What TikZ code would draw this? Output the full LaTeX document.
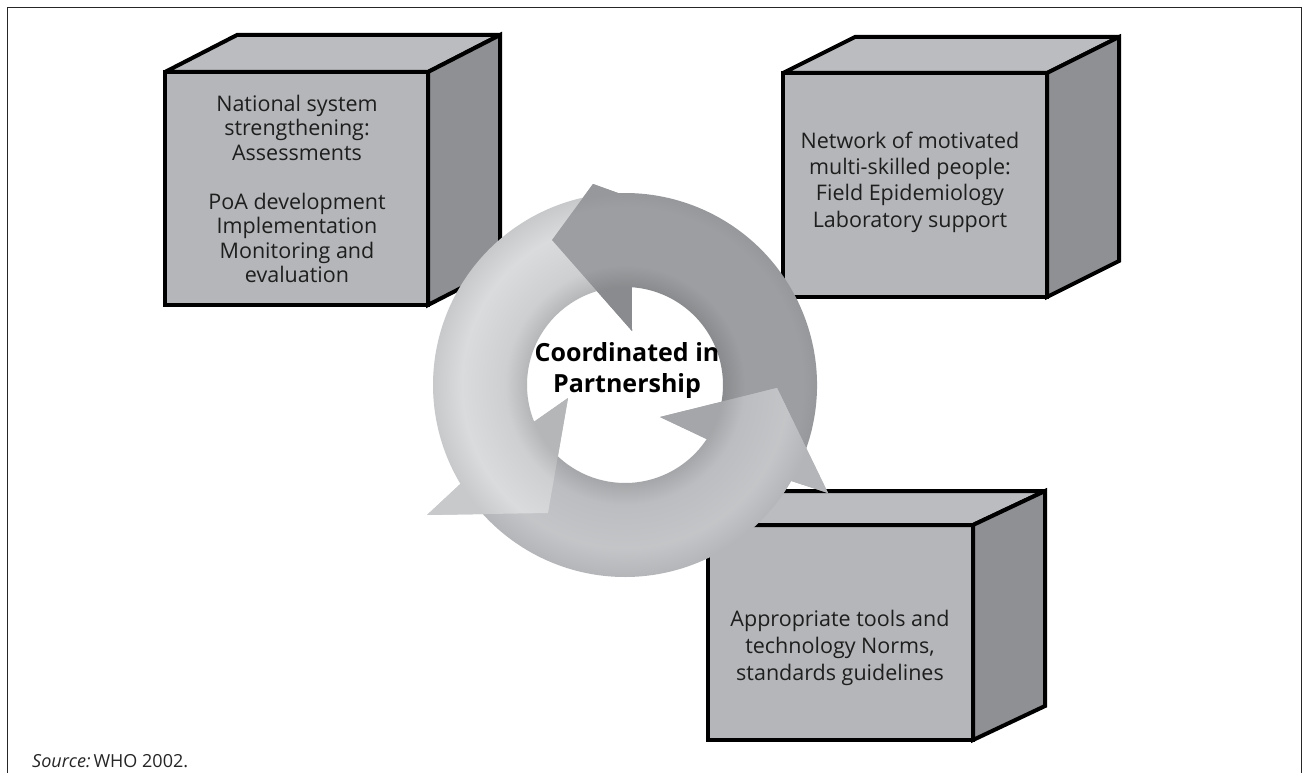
\documentclass[tikz,border=0pt]{standalone}
\usepackage{fontspec}
\setmainfont{Open Sans}
\usetikzlibrary{calc}
\definecolor{frontc}{HTML}{B4B6B9}
\definecolor{topc}{HTML}{BABCBF}
\definecolor{sidec}{HTML}{8E9093}
\definecolor{arrA}{HTML}{9C9EA1}
\definecolor{arrB}{HTML}{CDCFD1}
\definecolor{arrC}{HTML}{BBBDC0}
\definecolor{txt}{HTML}{1E1E1E}
\pgfdeclareradialshading{ringA}{\pgfpoint{0bp}{0bp}}{color(0bp)=(arrA!88!black); color(10.2bp)=(arrA!88!black); color(12.5bp)=(arrA); color(18.5bp)=(arrA); color(20bp)=(arrA!96!black); color(25bp)=(arrA!96!black)}
\pgfdeclareradialshading{ringB}{\pgfpoint{0bp}{0bp}}{color(0bp)=(arrB!88!black); color(10.2bp)=(arrB!88!black); color(12.5bp)=(arrB); color(17bp)=(arrB!75!white); color(20bp)=(arrB!97!black); color(25bp)=(arrB!97!black)}
\pgfdeclareradialshading{ringC}{\pgfpoint{0bp}{0bp}}{color(0bp)=(arrC!88!black); color(10.2bp)=(arrC!88!black); color(12.5bp)=(arrC); color(17bp)=(arrC!88!white); color(20bp)=(arrC!96!black); color(25bp)=(arrC!96!black)}
\begin{document}
\begin{tikzpicture}[x=1pt,y=-1pt,
  face/.style={draw=black,line width=4pt,line join=miter,miter limit=3},
  frontface/.style={face,fill=frontc,rectangle,inner sep=0pt,outer sep=0pt},
  topface/.style={face,fill=topc},
  sideface/.style={face,fill=sidec},
  boxtext/.style={text=txt,align=center,inner sep=0pt},
  ringtext/.style={text=black,align=center,inner sep=0pt,font=\fontsize{25}{31}\selectfont\bfseries},
  frameline/.style={line width=1.5pt,draw=black!85}
]
\useasboundingbox (0,0) rectangle (1304,773);
\fill[white] (0,0) rectangle (1304,773);
\draw[frameline] (7.5,773) -- (7.5,7.5) -- (1301.5,7.5) -- (1301.5,773);

% Box 1
\node[frontface,minimum width=263pt,minimum height=233pt] (f1) at (296.5,188.5) {};
\filldraw[topface] (f1.north west) -- ++(72,-37) -- ++(263,0) -- (f1.north east) -- cycle;
\filldraw[sideface] (f1.north east) -- ++(72,-37) -- ++(0,233) -- (f1.south east) -- cycle;
\node[boxtext,font=\fontsize{21.5}{24.5}\selectfont] (t1) at (297,189) {National system\\strengthening:\\Assessments\\[24.5pt]PoA development\\Implementation\\Monitoring and\\evaluation};

% Box 2
\node[frontface,minimum width=264pt,minimum height=224pt] (f2) at (915,185) {};
\filldraw[topface] (f2.north west) -- ++(72,-36) -- ++(264,0) -- (f2.north east) -- cycle;
\filldraw[sideface] (f2.north east) -- ++(72,-36) -- ++(0,224) -- (f2.south east) -- cycle;
\node[boxtext,font=\fontsize{21.5}{26.3}\selectfont] (t2) at (910,182) {Network of motivated\\multi-skilled people:\\Field Epidemiology\\Laboratory support};

% Box 3
\node[frontface,minimum width=265pt,minimum height=215pt] (f3) at (840.5,632.5) {};
\filldraw[topface] (f3.north west) -- ++(72,-34) -- ++(265,0) -- (f3.north east) -- cycle;
\filldraw[sideface] (f3.north east) -- ++(72,-34) -- ++(0,215) -- (f3.south east) -- cycle;
\node[boxtext,font=\fontsize{21.5}{27}\selectfont] (t3) at (840,648) {Appropriate tools and\\technology Norms,\\standards guidelines};

% Ring of arrows
\coordinate (O) at (625,385);
\coordinate (Ahb) at (593,184);
\coordinate (Aht) at (552,240);
\coordinate (Ahi) at (632,331);
\coordinate (Bhb) at (427,515);
\coordinate (Bht) at (548,513);
\coordinate (Bhi) at (568,398);
\coordinate (Chb) at (828,493);
\coordinate (Cht) at (777,388);
\coordinate (Chi) at (660,417);

\def\fullA{($(O)+(25:192)$) arc[start angle=25,end angle=-92,radius=192] -- (Ahb) -- (Aht) -- (Ahi) -- ($(O)+(-86:98)$) arc[start angle=-86,end angle=25,radius=98] -- cycle}
\def\fullB{($(O)+(-100:192)$) arc[start angle=-100,end angle=-211,radius=192] -- (Bhb) -- (Bht) -- (Bhi) -- ($(O)+(-202:98)$) arc[start angle=-202,end angle=-100,radius=98] -- cycle}
\def\fullC{($(O)+(-215:192)$) arc[start angle=-215,end angle=-330,radius=192] -- (Chb) -- (Cht) -- (Chi) -- ($(O)+(-326.5:98)$) arc[start angle=-326.5,end angle=-215,radius=98] -- cycle}
\def\headA{($(O)+(-92:192)$) -- (Ahb) -- (Aht) -- (Ahi) -- ($(O)+(-86:98)$) -- cycle}
\def\headB{($(O)+(-211:192)$) -- (Bhb) -- (Bht) -- (Bhi) -- ($(O)+(-202:98)$) -- cycle}
\def\headC{($(O)+(-330:192)$) -- (Chb) -- (Cht) -- (Chi) -- ($(O)+(-326.5:98)$) -- cycle}

% full arrows
\begin{scope}\clip \fullA; \shade[shading=ringA] (O) circle[radius=240];\end{scope}
\begin{scope}\clip \fullB; \shade[shading=ringB] (O) circle[radius=240];\end{scope}
\begin{scope}\clip \fullC; \shade[shading=ringC] (O) circle[radius=240];\end{scope}
% heads on top of the following tails
\begin{scope}\clip \headA; \shade[shading=ringA] (O) circle[radius=240];\end{scope}
\begin{scope}\clip \headB; \shade[shading=ringB] (O) circle[radius=240];\end{scope}
\begin{scope}\clip \headC; \shade[shading=ringC] (O) circle[radius=240];\end{scope}

\node[ringtext] (center) at (627,371) {Coordinated in\\Partnership};

\node[anchor=base west,inner sep=0pt,text=black!85,font=\fontsize{18}{20}\selectfont] (src) at (32,767) {\textit{Source:}\,WHO 2002.};
\end{tikzpicture}
\end{document}
